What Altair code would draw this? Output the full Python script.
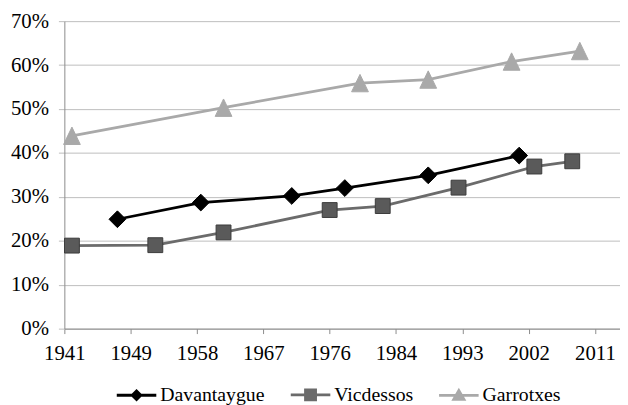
import altair as alt
import pandas as pd

series_names = ["Davantaygue", "Vicdessos", "Garrotxes"]
dav_years = [1948, 1959, 1971, 1978, 1989, 2001]
dav_values = [0.249, 0.287, 0.302, 0.320, 0.349, 0.394]
vic_years = [1942, 1953, 1962, 1976, 1983, 1993, 2003, 2008]
vic_values = [0.189, 0.190, 0.219, 0.270, 0.279, 0.321, 0.369, 0.381]
gar_years = [1942, 1962, 1980, 1989, 2000, 2009]
gar_values = [0.439, 0.503, 0.559, 0.567, 0.608, 0.632]

x_tick_positions = [1941, 1949.75, 1958.5, 1967.25, 1976, 1984.75, 1993.5, 2002.25, 2011]
y_ticks = [0, 0.1, 0.2, 0.3, 0.4, 0.5, 0.6, 0.7]

line_colors = ["#000000", "#6b6b6b", "#a9a9a9"]
fill_colors = ["#000000", "#5a5a5a", "#a9a9a9"]
stroke_colors = ["#000000", "#3c3c3c", "#a9a9a9"]
marker_paths = [
    "M-1.06,0L0,-1.06L1.06,0L0,1.06Z",
    "M-0.94,-0.94H0.94V0.94H-0.94Z",
    "M0,-1.1L1.06,1.1L-1.06,1.1Z",
]
# legend symbols: a line plus a marker drawn as nested outlines so the stroke fills it
legend_paths = [
    "M-4,0H4M-0.85,0L0,-0.85L0.85,0L0,0.85ZM-0.45,0L0,-0.45L0.45,0L0,0.45ZM-0.1,0L0,-0.1L0.1,0L0,0.1Z",
    "M-4,0H4M-1,-1H1V1H-1ZM-0.55,-0.55H0.55V0.55H-0.55ZM-0.15,-0.15H0.15V0.15H-0.15Z",
    "M-4,0H4M0,-0.95L1,0.8L-1,0.8ZM0,-0.35L0.5,0.5L-0.5,0.5ZM0,0.1L0.12,0.35L-0.12,0.35Z",
]

rows = []
for name, yrs, vals in [("Davantaygue", dav_years, dav_values),
                        ("Vicdessos", vic_years, vic_values),
                        ("Garrotxes", gar_years, gar_values)]:
    for i, (yr, v) in enumerate(zip(yrs, vals)):
        rows.append({"series": name, "year": yr, "value": v, "order": i})
df = pd.DataFrame(rows)

FONT = "'Liberation Serif', 'Times New Roman', 'DejaVu Serif', serif"

x_enc = alt.X("year:Q",
              scale=alt.Scale(domain=[1941, 2014.3], nice=False, zero=False),
              axis=alt.Axis(values=x_tick_positions, labelExpr="floor(datum.value)",
                            grid=False, domainColor="#8c8c8c", tickColor="#8c8c8c",
                            tickSize=5, labelFont=FONT, labelFontSize=21, labelColor="#000000",
                            labelPadding=9, title=None, labelFlush=False, labelOverlap=False))
y_enc = alt.Y("value:Q",
              scale=alt.Scale(domain=[0, 0.7], nice=False),
              axis=alt.Axis(values=y_ticks, format=".0%", gridColor="#bdbdbd",
                            domainColor="#8c8c8c", tickColor="#bdbdbd", tickSize=6,
                            labelFont=FONT, labelFontSize=21, labelColor="#000000",
                            labelPadding=10, title=None))

base = alt.Chart(df)

lines = base.mark_line(strokeWidth=2.8).encode(
    x=x_enc, y=y_enc,
    color=alt.Color("series:N", scale=alt.Scale(domain=series_names, range=line_colors), legend=None),
    order="order:Q",
)

points = base.mark_point(filled=True, opacity=1, strokeWidth=1, size=256).encode(
    x=x_enc, y=y_enc,
    shape=alt.Shape("series:N", scale=alt.Scale(domain=series_names, range=marker_paths), legend=None),
    fill=alt.Fill("series:N", scale=alt.Scale(domain=series_names, range=fill_colors), legend=None),
    stroke=alt.Stroke("series:N", scale=alt.Scale(domain=series_names, range=stroke_colors), legend=None),
)

leg = alt.Legend(orient="none", legendX=63, legendY=368, direction="horizontal", title=None,
                 symbolSize=100, symbolStrokeWidth=3, labelFont=FONT, labelFontSize=20,
                 labelColor="#000000", labelOffset=14, columnPadding=20, padding=0,
                 symbolOpacity=1)

legend_layer = base.mark_point(filled=False, opacity=0, strokeWidth=3).encode(
    x=x_enc, y=y_enc,
    shape=alt.Shape("series:N", scale=alt.Scale(domain=series_names, range=legend_paths), legend=leg),
    color=alt.Color("series:N", scale=alt.Scale(domain=series_names, range=line_colors), legend=leg),
)

chart = alt.layer(lines, points, legend_layer).resolve_scale(
    shape="independent", color="independent", fill="independent", stroke="independent"
).properties(
    width=562, height=311,
    autosize=alt.AutoSizeParams(type="none"),
    padding={"left": 57, "top": 11, "right": 0, "bottom": 80},
    background="white",
).configure_view(stroke=None)

chart.save("out.html", embed_options={"renderer": "svg", "actions": False})
